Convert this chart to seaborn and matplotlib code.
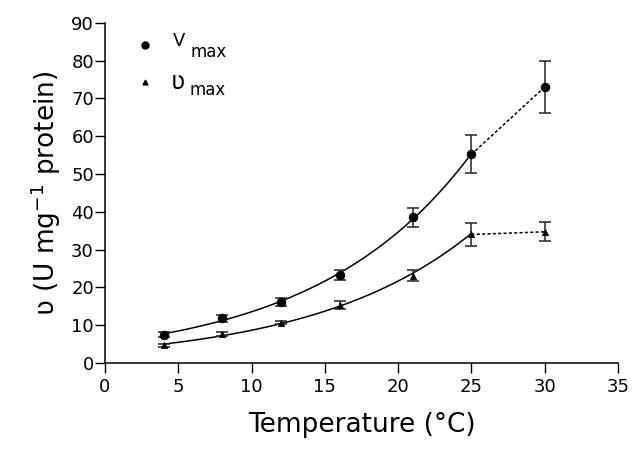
import numpy as np
import pandas as pd
import matplotlib
matplotlib.use("Agg")
import matplotlib.pyplot as plt
import seaborn as sns

temperature = [4, 8, 12, 16, 21, 25, 30]
Vmax_values = [7.5, 11.8, 16.2, 23.3, 38.5, 55.2, 73.0]
Vmax_err = [0.6, 1.0, 1.0, 1.3, 2.5, 5.0, 6.8]
vmax_values = [4.7, 7.6, 10.7, 15.3, 23.1, 34.0, 34.7]
vmax_err = [0.4, 0.5, 0.5, 1.0, 1.5, 3.0, 2.5]
x_ticks = [0, 5, 10, 15, 20, 25, 30, 35]
y_ticks = [0, 10, 20, 30, 40, 50, 60, 70, 80, 90]

sns.set_style("ticks")
plt.rcParams['font.family'] = ['DejaVu Sans']
plt.rcParams['mathtext.fontset'] = 'dejavusans'

fig = plt.figure(figsize=(6.34, 4.49), dpi=100)
ax = fig.add_axes([0.1656, 0.1915, 0.8092, 0.7579])

df = pd.DataFrame({"T": temperature, "V": Vmax_values, "Ve": Vmax_err,
                   "v": vmax_values, "ve": vmax_err})

# exponential fits for 4-25 °C (computed from data)
fit = df[df["T"] <= 25]
xs = np.linspace(4, 25, 200)
for col in ["V", "v"]:
    b, a = np.polyfit(fit["T"], np.log(fit[col]), 1)
    curve = pd.DataFrame({"T": xs, "y": np.exp(a + b * xs)})
    sns.lineplot(data=curve, x="T", y="y", ax=ax, color="black", lw=1.1)
    seg = df[df["T"] >= 25]
    ax.plot(seg["T"], seg[col], color="black", lw=1.1, ls=(0, (2, 1.5)))

ax.errorbar(df["T"], df["V"], yerr=df["Ve"], fmt="none", ecolor="#333333",
            elinewidth=1.2, capsize=4, capthick=1.2)
ax.errorbar(df["T"], df["v"], yerr=df["ve"], fmt="none", ecolor="#333333",
            elinewidth=1.2, capsize=4, capthick=1.2)
sns.scatterplot(data=df, x="T", y="V", ax=ax, marker="o", color="black",
                s=40, edgecolor="black", zorder=5)
sns.scatterplot(data=df, x="T", y="v", ax=ax, marker="^", color="black",
                s=22, edgecolor="black", zorder=5)

# legend
ax.plot([2.7], [84.0], marker="o", color="black", ms=5, ls="none")
ax.plot([2.7], [74.2], marker="^", color="black", ms=3.5, ls="none")
ax.text(4.6, 83.9, "V", fontsize=13, va="baseline", color="black")
ax.text(5.85, 81.0, "max", fontsize=12, va="baseline", color="black")
ax.text(4.5, 72.4, "ʋ", fontsize=17, va="baseline", color="black")
ax.text(5.75, 70.9, "max", fontsize=12, va="baseline", color="black")

ax.set_xlim(0, 35)
ax.set_ylim(0, 90)
ax.set_xticks(x_ticks)
ax.set_yticks(y_ticks)
ax.tick_params(axis="both", direction="out", length=7, width=1.0,
               labelsize=13, colors="black")
ax.tick_params(axis="y", pad=1)
for s in ["left", "bottom"]:
    ax.spines[s].set_linewidth(1.1)
    ax.spines[s].set_color("black")
sns.despine(ax=ax)
ax.set_xlabel("Temperature (°C)", fontsize=19, labelpad=12, color="black")
ax.set_ylabel(r"ʋ (U mg$^{\mathregular{-1}}$ protein)", fontsize=19,
              labelpad=6, color="black")

fig.savefig("out.png", dpi=100)
